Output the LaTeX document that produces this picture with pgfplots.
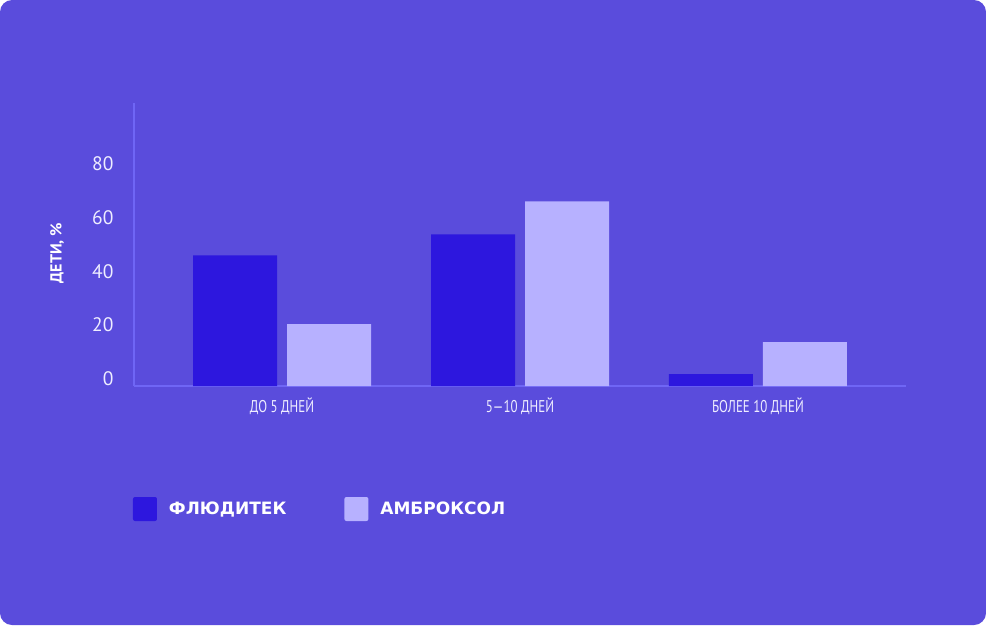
\documentclass[border=0pt]{standalone}
\usepackage{fontspec}
\setmainfont{PT Sans}
\newfontfamily\tickfont{PT Sans}[FakeStretch=0.76]
\newfontfamily\legfont{DejaVu Sans}
\usepackage{pgfplots}
\pgfplotsset{compat=1.18}
\definecolor{bg}{HTML}{5A4CDC}
\definecolor{dark}{HTML}{2D17DE}
\definecolor{light}{HTML}{B7B1FF}
\definecolor{axc}{HTML}{6F66F5}
\definecolor{txt}{HTML}{EEEDFF}
\begin{document}
\begin{tikzpicture}[x=1pt,y=1pt]
\fill[bg, rounded corners=12pt] (-134,-239) rectangle (852,386);
\begin{axis}[
  at={(0,0)}, anchor=south west,
  scale only axis, width=772pt, height=283pt,
  xmin=-0.622, xmax=2.622, ymin=0, ymax=105,
  axis x line*=bottom, axis y line*=left,
  axis line style={axc, line width=1.6pt},
  major tick length=0pt,
  xtick={0,1,2},
  xticklabels={ДО 5 ДНЕЙ, 5—10 ДНЕЙ, БОЛЕЕ 10 ДНЕЙ},
  ytick={0,20,40,60,80},
  /pgf/number format/assume math mode=true,
  yticklabel style={text=txt, font=\fontsize{19.5}{22}\selectfont, xshift=-17pt, yshift=7pt},
  xticklabel style={text=txt, font=\tickfont\fontsize{17}{19}\selectfont, yshift=-8pt},
  ylabel={ДЕТИ, \%},
  ylabel style={at={(rel axis cs:0,0.47)}, anchor=center, yshift=77pt, text=white, font=\bfseries\fontsize{16}{18}\selectfont},
  ybar=10pt, bar width=84pt,
  legend columns=2,
  legend style={at={(rel axis cs:0,0)}, anchor=north west, xshift=-1pt, yshift=-111pt, draw=none, fill=none, inner sep=0pt, outer sep=0pt,
    text=white, font=\legfont\bfseries\fontsize{17}{20}\selectfont,
    /tikz/every even column/.append style={column sep=56pt}},
  legend cell align=left,
]
\addplot[fill=dark, draw=none, legend image code/.code={\fill[dark, rounded corners=2pt] (0pt,-12pt) rectangle (24pt,12pt);}] coordinates {(0,48.5) (1,56.3) (2,4.4)};
\addplot[fill=light, draw=none, legend image code/.code={\fill[light, rounded corners=2pt] (0pt,-12pt) rectangle (24pt,12pt);}] coordinates {(0,23) (1,68.5) (2,16.3)};
\legend{\hspace{10pt}ФЛЮДИТЕК, \hspace{10pt}АМБРОКСОЛ}
\end{axis}
\end{tikzpicture}
\end{document}
